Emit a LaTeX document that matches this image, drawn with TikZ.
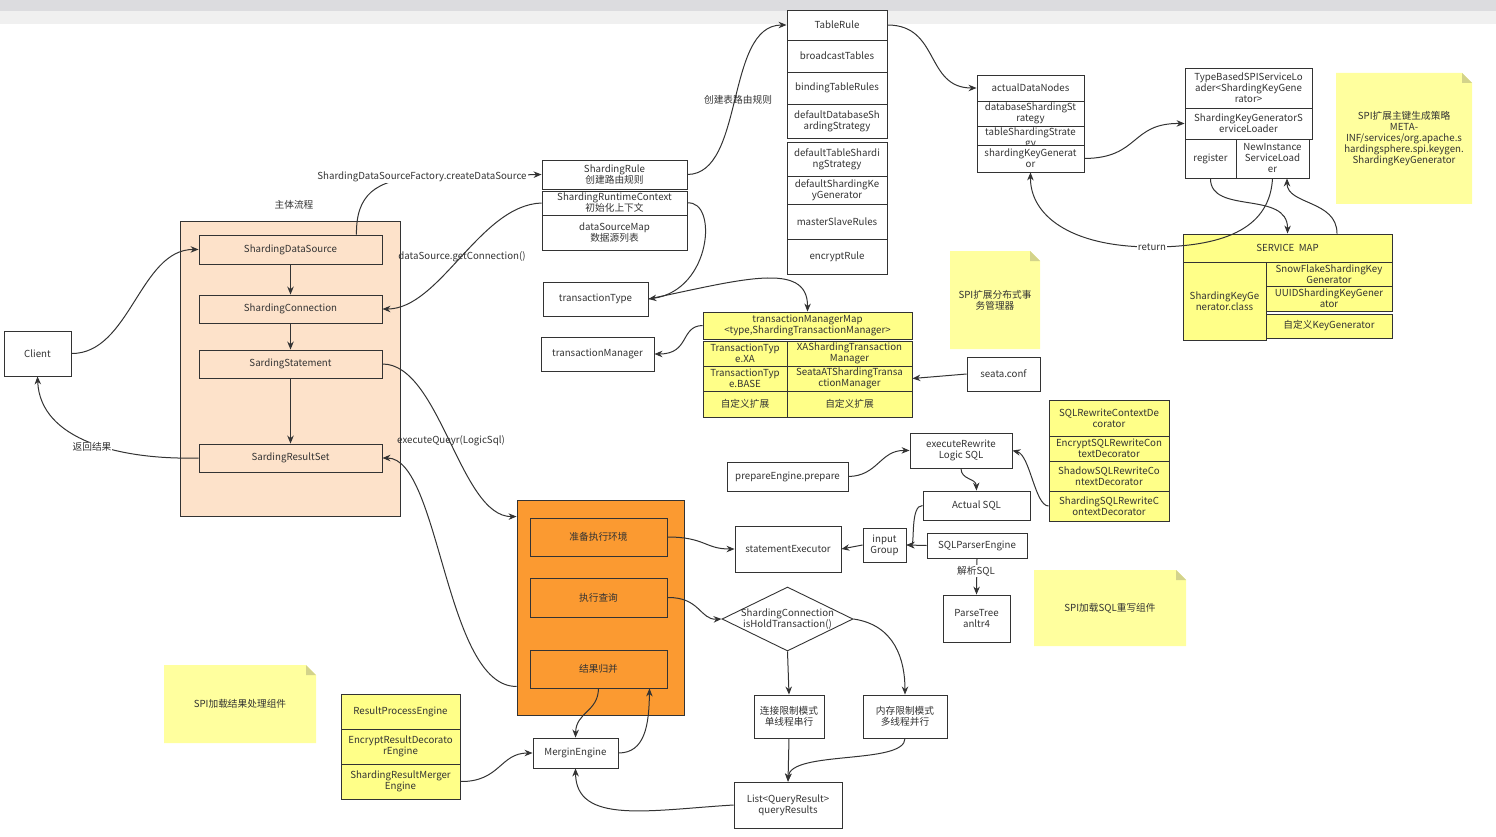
\documentclass[tikz,border=0pt]{standalone}
\usepackage{fontspec}
\setmainfont{Noto Sans CJK SC}
\usetikzlibrary{arrows.meta,shapes.geometric}
\definecolor{lc}{HTML}{333333}
\definecolor{peach}{HTML}{FDE2CA}
\definecolor{orng}{HTML}{FB9A31}
\definecolor{ytab}{HTML}{FFFF88}
\definecolor{ynote}{HTML}{FFFF9E}
\definecolor{yfold}{HTML}{D3D38B}
\definecolor{bandA}{HTML}{DCDCDF}
\definecolor{bandB}{HTML}{F0F0F0}
\newcommand\tfont{\fontsize{9.7}{11}\selectfont}
\tikzset{
  cell/.style={draw=lc, line width=0.9pt, fill=white, inner sep=0pt},
  ycell/.style={cell, fill=ytab},
  pcell/.style={cell, fill=peach},
  ocell/.style={cell, fill=orng},
  lbl/.style={align=center, inner sep=1pt, text=lc, font=\tfont},
  arr/.style={draw=lc, line width=1pt, -{Stealth[length=8pt,width=6.5pt]}},
}
\newcommand\mkcell[7]{\node[#1, minimum width={#4-#2}, minimum height={#5-#3}, label={[lbl]center:{#7}}] (#6) at ({(#2+#4)/2},{(#3+#5)/2}) {};}
\newcommand\mknote[6]{\fill[ynote] (#1,#2) -- ({#3-10},#2) -- (#3,{#2+10}) -- (#3,#4) -- (#1,#4) -- cycle;
  \fill[yfold] ({#3-10},#2) -- (#3,{#2+10}) -- ({#3-10},{#2+10}) -- cycle;
  \node[lbl] (#5) at ({(#1+#3)/2},{(#2+#4)/2}) {#6};}
\begin{document}
\begin{tikzpicture}[x=1pt,y=-1pt]
\useasboundingbox (0,0) rectangle (1496,837);
\fill[bandB] (0,0) rectangle (1496,24);
\fill[bandA] (0,0) rectangle (1496,11);

% notes
\mknote{1336}{73}{1472}{204}{n1}{SPI扩展主键生成策略\\META-\\INF/services/org.apache.s\\hardingsphere.spi.keygen.\\ShardingKeyGenerator}
\mknote{950}{251}{1040}{349}{n2}{SPI扩展分布式事\\务管理器}
\mknote{1034}{570}{1186}{646}{n3}{SPI加载SQL重写组件}
\mknote{164}{665}{316}{743}{n4}{SPI加载结果处理组件}

% main flow
\mkcell{pcell}{180}{221}{400}{516}{mainbox}{}
\node[lbl] (mainlbl) at (294,205) {主体流程};
\mkcell{pcell}{199}{235}{382}{264}{sds}{ShardingDataSource}
\mkcell{pcell}{199}{295}{382}{323}{scn}{ShardingConnection}
\mkcell{pcell}{199}{350}{382}{378}{sst}{SardingStatement}
\mkcell{pcell}{199}{444}{382}{472}{srs}{SardingResultSet}
\mkcell{cell}{4}{331}{71}{376}{client}{Client}

% sharding rule
\mkcell{cell}{542}{160}{687}{189}{srule}{ShardingRule\\创建路由规则}
\mkcell{cell}{542}{191}{687}{215}{src}{ShardingRuntimeContext\\初始化上下文}
\mkcell{cell}{542}{215}{687}{250}{dsm}{dataSourceMap\\数据源列表}

% table rule
\mkcell{cell}{787}{10}{887}{40}{tr}{TableRule}
\mkcell{cell}{787}{40}{887}{72}{bt}{broadcastTables}
\mkcell{cell}{787}{72}{887}{104}{btr}{bindingTableRules}
\mkcell{cell}{787}{104}{887}{138}{ddss}{defaultDatabaseSh\\ardingStrategy}
\mkcell{cell}{787}{142}{887}{176}{dtss}{defaultTableShardi\\ngStrategy}
\mkcell{cell}{787}{176}{887}{204}{dskg}{defaultShardingKe\\yGenerator}
\mkcell{cell}{787}{204}{887}{239}{msr}{masterSlaveRules}
\mkcell{cell}{787}{239}{887}{274}{encr}{encryptRule}

% actual data nodes
\mkcell{cell}{977}{75}{1084}{101}{adn}{actualDataNodes}
\mkcell{cell}{977}{101}{1084}{126}{dbss}{databaseShardingSt\\rategy}
\node[cell, minimum width=107, minimum height=19, label={[lbl,yshift=-3pt]center:{tableShardingStrate\\gy}}] (tbss) at (1030.5,135.5) {};
\mkcell{cell}{977}{145}{1084}{172}{skg}{shardingKeyGenerat\\or}

% SPI loader
\mkcell{cell}{1185}{68}{1312}{108}{tbsl}{TypeBasedSPIServiceLo\\ader<ShardingKeyGene\\rator>}
\mkcell{cell}{1185}{108}{1312}{139}{skgsl}{ShardingKeyGeneratorS\\erviceLoader}
\mkcell{cell}{1185}{139}{1236}{178}{reg}{register}
\mkcell{cell}{1236}{139}{1309}{178}{ni}{NewInstance\\ServiceLoad\\er}

% service map
\mkcell{ycell}{1183}{234}{1392}{262}{smap}{SERVICE\ \ MAP}
\mkcell{ycell}{1183}{262}{1266}{340}{skgc}{ShardingKeyGe\\nerator.class}
\mkcell{ycell}{1266}{262}{1392}{286}{sfk}{SnowFlakeShardingKey\\Generator}
\mkcell{ycell}{1266}{286}{1392}{311}{uuid}{UUIDShardingKeyGener\\ator}
\mkcell{ycell}{1266}{314}{1392}{338}{custk}{自定义KeyGenerator}

% transaction
\mkcell{ycell}{703}{312}{912}{339}{tmm}{transactionManagerMap\\<type,ShardingTransactionManager>}
\mkcell{ycell}{703}{341}{787}{366}{xa1}{TransactionTyp\\e.XA}
\mkcell{ycell}{787}{341}{912}{366}{xa2}{XAShardingTransaction\\Manager}
\mkcell{ycell}{703}{366}{787}{391}{bs1}{TransactionTyp\\e.BASE}
\mkcell{ycell}{787}{366}{912}{391}{bs2}{SeataATShardingTransa\\ctionManager}
\mkcell{ycell}{703}{391}{787}{417}{cu1}{自定义扩展}
\mkcell{ycell}{787}{391}{912}{417}{cu2}{自定义扩展}
\mkcell{cell}{543}{282}{648}{316}{tt}{transactionType}
\mkcell{cell}{541}{337}{654}{371}{tmgr}{transactionManager}
\mkcell{cell}{967}{357}{1040}{391}{seata}{seata.conf}

% SQL rewrite
\mkcell{ycell}{1049}{400}{1169}{436}{scd}{SQLRewriteContextDe\\corator}
\mkcell{ycell}{1049}{436}{1169}{461}{escd}{EncryptSQLRewriteCon\\textDecorator}
\mkcell{ycell}{1049}{461}{1169}{491}{sscd}{ShadowSQLRewriteCo\\ntextDecorator}
\mkcell{ycell}{1049}{491}{1169}{521}{shsr}{ShardingSQLRewriteC\\ontextDecorator}
\mkcell{cell}{910}{433}{1012}{468}{exrw}{executeRewrite\\Logic SQL}
\mkcell{cell}{727}{462}{848}{491}{pe}{prepareEngine.prepare}
\mkcell{cell}{923}{491}{1030}{520}{asql}{Actual SQL}
\mkcell{cell}{735}{526}{841}{572}{se}{statementExecutor}
\mkcell{cell}{863}{528}{906}{562}{ig}{input\\Group}
\mkcell{cell}{927}{533}{1027}{558}{sqlp}{SQLParserEngine}
\mkcell{cell}{943}{595}{1010}{642}{pt}{ParseTree\\anltr4}

% executor
\mkcell{ocell}{517}{500}{684}{715}{obox}{}
\mkcell{ocell}{530}{518}{667}{556}{prep}{准备执行环境}
\mkcell{ocell}{530}{578}{667}{617}{exq}{执行查询}
\mkcell{ocell}{530}{650}{667}{688}{jg}{结果归并}

% result
\mkcell{ycell}{341}{694}{460}{729}{rpe}{ResultProcessEngine}
\mkcell{ycell}{341}{729}{460}{764}{erde}{EncryptResultDecorato\\rEngine}
\mkcell{ycell}{341}{764}{460}{799}{srm}{ShardingResultMerger\\Engine}
\mkcell{cell}{533}{738}{618}{768}{me}{MerginEngine}

\node[cell, diamond, minimum width=131, minimum height=64] (dia) at (787.5,619) {};
\node[lbl] (dialbl) at (dia.center) {ShardingConnection\\isHoldTransaction()};
\mkcell{cell}{754}{695}{824}{738}{lj}{连接限制模式\\单线程串行}
\mkcell{cell}{863}{695}{947}{738}{nc}{内存限制模式\\多线程并行}
\mkcell{cell}{734}{782}{842}{828}{lq}{List<QueryResult>\\queryResults}

% connectors
\draw[arr] (client.east) .. controls (130,354) and (140,249) .. (sds.west);
\draw[arr] (sds.south) -- (scn.north);
\draw[arr] (scn.south) -- (sst.north);
\draw[arr] (sst.south) -- (srs.north);
\draw[arr] (srs.west) .. controls (120,460) and (40,440) .. (client.south);
\draw[arr] ([xshift=-26pt]sds.north east) .. controls (356,195) and (375,180) .. (420,177) -- (srule.west);
\draw[arr] (src.west) .. controls (480,205) and (440,309) .. (scn.east);
\draw[arr] (srule.east) .. controls (745,174) and (725,25) .. (tr.west);
\draw[arr] (src.east) .. controls (718,200) and (712,290) .. (tt.east);
\draw[arr] (tt.east) .. controls (740,280) and (808,260) .. (tmm.north);
\draw[arr] (tmm.west) .. controls (680,326) and (690,354) .. (tmgr.east);
\draw[arr] (seata.west) -- (bs2.east);
\draw[arr] (tr.east) .. controls (940,25) and (925,88) .. (adn.west);
\draw[arr] (skg.east) .. controls (1140,158) and (1130,123) .. (skgsl.west);
\draw[arr] (reg.south) .. controls (1210,215) and (1288,190) .. (smap.north);
\draw[arr] ([xshift=49.5pt]smap.north) .. controls (1337,200) and (1287,205) .. ([xshift=14.5pt]ni.south);
\draw[arr] (ni.south) .. controls (1270,225) and (1230,247) .. (1152,247) .. controls (1070,247) and (1030,215) .. (skg.south);
\draw[arr] (sst.east) .. controls (440,364) and (460,517) .. ([yshift=-17pt]obox.north west);
\draw[arr] ([yshift=29pt]obox.south west) .. controls (445,687) and (440,458) .. (srs.east);
\draw[arr] (prep.east) .. controls (705,537) and (705,549) .. (se.west);
\draw[arr] (exq.east) .. controls (700,597) and (700,620) .. (dia.west);
\draw[arr] (dia.south) -- (lj.north);
\draw[arr] (dia.east) .. controls (895,625) and (905,660) .. (nc.north);
\draw[arr] (lj.south) -- (lq.north);
\draw[arr] (nc.south) .. controls (905,765) and (790,750) .. (lq.north);
\draw[arr] (lq.west) .. controls (650,810) and (576,825) .. (me.south);
\draw[arr] (srm.east) .. controls (500,782) and (500,753) .. (me.west);
\draw[arr] (jg.south) .. controls (598,712) and (576,712) .. (me.north);
\draw[arr] (me.east) .. controls (645,753) and (649,725) .. ([xshift=51pt]jg.south);
\draw[arr] (pe.east) .. controls (878,476) and (880,450) .. (exrw.west);
\draw[arr] (shsr.west) .. controls (1035,506) and (1030,455) .. (exrw.east);
\draw[arr] (exrw.south) .. controls (961,480) and (976,478) .. (asql.north);
\draw[arr] (asql.west) .. controls (910,505) and (915,545) .. (ig.east);
\draw[arr] (sqlp.west) -- (ig.east);
\draw[arr] (ig.west) -- (se.east);
\draw[arr] (sqlp.south) -- (pt.north);

% connector labels
\node[lbl, fill=white] (l1) at (422,177) {ShardingDataSourceFactory.createDataSource};
\node[lbl] (l2) at (462,257) {dataSource.getConnection()};
\node[lbl] (l3) at (738,100) {创建表路由规则};
\node[lbl, fill=white] (l4) at (1152,247) {return};
\node[lbl] (l5) at (451,441) {executeQueyr(LogicSql)};
\node[lbl, fill=white] (l6) at (92,447) {返回结果};
\node[lbl, fill=white] (l7) at (976,571) {解析SQL};
\end{tikzpicture}
\end{document}
